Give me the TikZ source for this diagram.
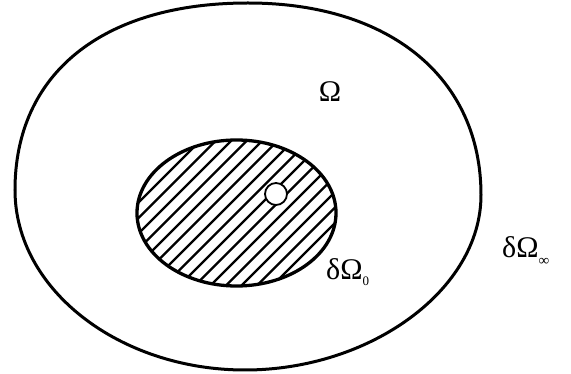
\documentclass[tikz,border=0pt]{standalone}
\usepackage{fontspec}
\setmainfont{Liberation Serif}
\usetikzlibrary{calc}
\begin{document}
\begin{tikzpicture}[x=1pt,y=-1pt,
  bound/.style={line width=3pt},
  hatch/.style={line width=2.2pt},
  lbl/.style={inner sep=0pt,font=\fontsize{30}{30}\selectfont}]
\useasboundingbox (0,0) rectangle (571,374);
% outer boundary
\coordinate (T) at (248,3);
\coordinate (R) at (481,195);
\coordinate (B) at (245,370);
\coordinate (L) at (15,190);
\draw[bound] (T) .. controls (390,3) and (481,78) .. (R)
  .. controls (481,290) and (370,370) .. (B)
  .. controls (120,370) and (15,290) .. (L)
  .. controls (15,74) and (102,3) .. (T) -- cycle;
% inner hatched region
\coordinate (c0) at (236.5,213);
\begin{scope}
 \clip (c0) ellipse [x radius=99.5, y radius=73];
 \foreach \k in {-25,...,25}{
   \draw[hatch] ($(c0)+(\k*15.5-150,150)$) -- ++(300,-300);
 }
\end{scope}
\draw[bound,line width=3.3pt] (c0) ellipse [x radius=99.5, y radius=73];
\node[circle,draw,fill=white,line width=1.8pt,minimum size=22pt,inner sep=0pt] (hole) at (276,194) {};
% labels
\node[lbl] (om) at (330,92) {Ω};
\node[lbl,anchor=base west] (d0) at (326,280) {δΩ\raisebox{-6pt}{\fontsize{13}{13}\selectfont 0}};
\node[lbl,anchor=base west] (dinf) at (502,258) {δΩ\raisebox{-8pt}{\fontsize{15}{15}\selectfont ∞}};
\end{tikzpicture}
\end{document}
